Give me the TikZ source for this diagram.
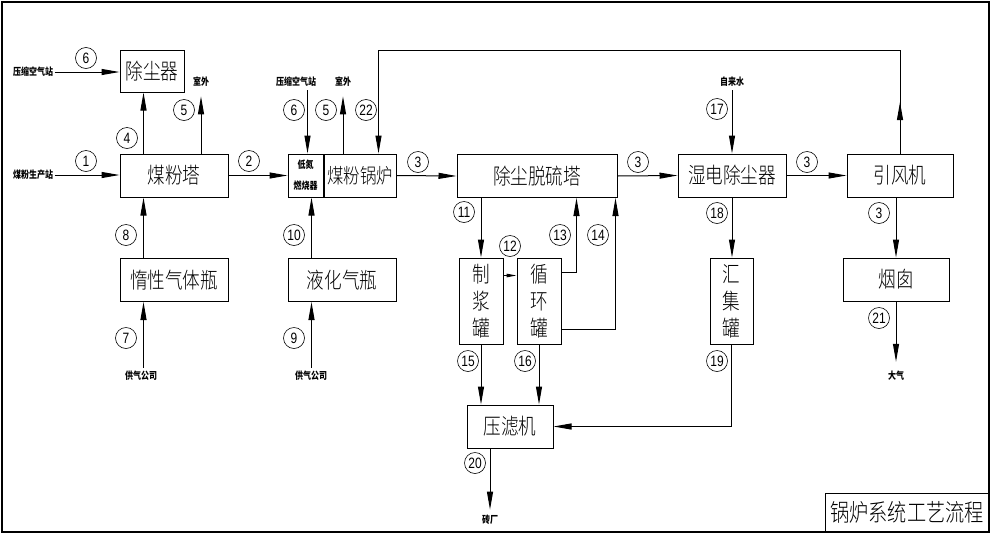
\documentclass[tikz,border=0pt]{standalone}
\usepackage{fontspec}
\setmainfont{Liberation Sans}
\newfontfamily\cjk[FakeStretch=0.8]{Noto Sans CJK SC}
\newfontfamily\cjkl[FakeStretch=0.8]{Noto Sans CJK SC Light}
\newfontfamily\numfont[FakeStretch=0.8]{Liberation Sans}
\usetikzlibrary{arrows.meta,calc}

\begin{document}
\begin{tikzpicture}[
            x = 1pt, y = -1pt,
            line width = 1pt,
            box/.style = {
                draw, rectangle,
                inner sep = 0pt,
                minimum width = 108pt,
                minimum height = 43pt,
                font = \cjkl\fontsize{22}{24}\selectfont,
            },
            tank/.style = {
                box, align = center,
                minimum width = 44pt,
                minimum height = 86pt,
                font = \cjkl\fontsize{22}{27}\selectfont,
            },
            num/.style = {
                draw, circle, inner sep = 0pt,
                minimum size = 21pt, line width = 0.6pt,
                font = \numfont\fontsize{15}{15}\selectfont,
            },
            lbl/.style = {
                inner sep = 1pt,
                font = \cjk\bfseries\fontsize{10}{11}\selectfont,
            },
            arr/.style = {-{Triangle[length = 18pt, width = 6pt]}},
        ]

        \useasboundingbox (0,0) rectangle (992,536);
        \draw[line width = 1.3pt] (2,2) rectangle (989,532);

        % Apparaten
        \node[box, minimum width = 64pt, minimum height = 42pt] (ccq) at (152,71) {除尘器};
        \node[box] (mft) at (174,175.5) {煤粉塔};
        \node[box] (dxq) at (174,280) {惰性气体瓶};
        \node[box] (yhq) at (342,280) {液化气瓶};
        \node[box, minimum width = 35pt, align = center,
            font = \cjk\bfseries\fontsize{10}{12}\selectfont] (burner) at (305.5,175.5) {低氮\\[9pt]燃烧器};
        \node[box, minimum width = 72pt, anchor = west,
            font = \cjkl\fontsize{20.5}{24}\selectfont] (boiler) at (burner.east) {煤粉锅炉};
        \node[box, minimum width = 160pt] (tlt) at (537,176) {除尘脱硫塔};
        \node[tank] (zjg) at (481,301) {制\\浆\\罐};
        \node[tank] (xhg) at (539,301) {循\\环\\罐};
        \node[box, minimum width = 86pt] (ylj) at (510,426.5) {压滤机};
        \node[box] (sdc) at (732,175.5) {湿电除尘器};
        \node[tank, minimum width = 43pt] (hjg) at (731.5,301) {汇\\集\\罐};
        \node[box, minimum width = 106pt] (yfj) at (900,175.5) {引风机};
        \node[box, minimum width = 106pt] (yc) at (896,279.5) {烟囱};
        \node[box, minimum width = 164pt, minimum height = 39pt,
            font = \cjkl\fontsize{24}{24}\selectfont] (title) at (907,512.5) {锅炉系统工艺流程};

        % Bronnen en uitgangen
        \node[lbl] (ysk1) at (33,72) {压缩空气站};
        \node[lbl] (mfs) at (33,175) {煤粉生产站};
        \node[lbl] (sw1) at (201,82) {室外};
        \node[lbl] (gq1) at (141,376) {供气公司};
        \node[lbl] (gq2) at (311,376) {供气公司};
        \node[lbl] (ysk2) at (296,82) {压缩空气站};
        \node[lbl] (sw2) at (343,82) {室外};
        \node[lbl] (zls) at (732,82) {自来水};
        \node[lbl] (zc) at (490,520) {砖厂};
        \node[lbl] (dq) at (896,376) {大气};

        \coordinate (b6) at ([xshift = 20pt]burner.north west);
        \coordinate (back) at (900,50.5);

        % Leidingen
        \draw[arr] (ysk1.east) -- (ysk1.east -| ccq.west);
        \draw[arr] (mfs.east) -- (mfs.east -| mft.west);
        \draw[arr] ([xshift = 24pt]mft.north west) -- ([xshift = 24pt]ccq.south west);
        \draw[arr, shorten >= 8pt] (sw1 |- mft.north) -- (sw1.south);
        \draw[arr] ([xshift = 24pt]dxq.north west) -- ([xshift = 24pt]mft.south west);
        \draw[arr, shorten <= 2pt] (gq1.north -| dxq.south west) ++(24,0) -- ([xshift = 24pt]dxq.south west);
        \draw[arr, shorten <= 2pt] (gq2.north -| yhq.south west) ++(24,0) -- ([xshift = 24pt]yhq.south west);
        \draw[arr] ([xshift = 24pt]yhq.north west) -- ([xshift = 24pt]burner.south west);
        \draw[arr] (mft.east) -- (burner.west);
        \draw[arr, shorten <= 2pt] (b6 |- ysk2.south) -- (b6);
        \draw[arr, shorten >= 8pt] (sw2 |- boiler.north) -- (sw2.south);
        \draw[arr] (boiler.east) -- (tlt.west);
        \draw[arr] (yfj.north) -- (back) -| ([xshift = 55pt]boiler.north west);
        \draw[arr] (yfj.north) -- ($(yfj.north)!0.5!(back)$);
        \draw[arr] (tlt.east) -- (sdc.west);
        \draw[arr] (sdc.east) -- (yfj.west);
        \draw[arr] (zjg.north |- tlt.south) -- (zjg.north);
        \draw[-{Triangle[length = 10pt, width = 3.5pt]}]
            ([yshift = -18pt]zjg.north east) -- ([yshift = -18pt]xhg.north west);
        \draw[arr] ([yshift = -15pt]xhg.north east) -| ([xshift = 120pt]tlt.south west);
        \draw[arr] ([yshift = 15pt]xhg.south east) -| ([xshift = -2pt]tlt.south east);
        \draw[arr] (zjg.south) -- (zjg.south |- ylj.north);
        \draw[arr] (xhg.south) -- (xhg.south |- ylj.north);
        \draw[arr] (hjg.south) |- (ylj.east);
        \draw[arr, shorten >= 4pt] (zc |- ylj.south) -- (zc.north);
        \draw[arr, shorten <= 2pt] (zls.south) -- (zls.south |- sdc.north);
        \draw[arr] (sdc.south) -- (sdc.south |- hjg.north);
        \draw[arr] (yc.north |- yfj.south) -- (yc.north);
        \draw[arr, shorten >= 8pt] (yc.south) -- (dq.north);

        % Nummers
        \node[num] (c6a) at (86,58) {6};
        \node[num] (c1) at (86,161) {1};
        \node[num] (c4) at (127,138) {4};
        \node[num] (c5a) at (184,110) {5};
        \node[num] (c8) at (126,235) {8};
        \node[num] (c7) at (126,338) {7};
        \node[num] (c2) at (249,161) {2};
        \node[num] (c10) at (294,235) {10};
        \node[num] (c9) at (294,338) {9};
        \node[num] (c6b) at (294,110) {6};
        \node[num] (c5b) at (326,110) {5};
        \node[num] (c22) at (366,110) {22};
        \node[num] (c3a) at (418,162) {3};
        \node[num] (c11) at (464,212) {11};
        \node[num] (c12) at (510,246) {12};
        \node[num] (c13) at (560,235) {13};
        \node[num] (c14) at (598,235) {14};
        \node[num] (c15) at (468,361) {15};
        \node[num] (c16) at (525,361) {16};
        \node[num] (c20) at (475,463) {20};
        \node[num] (c3b) at (638,162) {3};
        \node[num] (c17) at (717,109) {17};
        \node[num] (c18) at (717,213) {18};
        \node[num] (c19) at (717,361) {19};
        \node[num] (c3c) at (807,162) {3};
        \node[num] (c3d) at (879,213) {3};
        \node[num] (c21) at (879,318) {21};

    \end{tikzpicture}
\end{document}
